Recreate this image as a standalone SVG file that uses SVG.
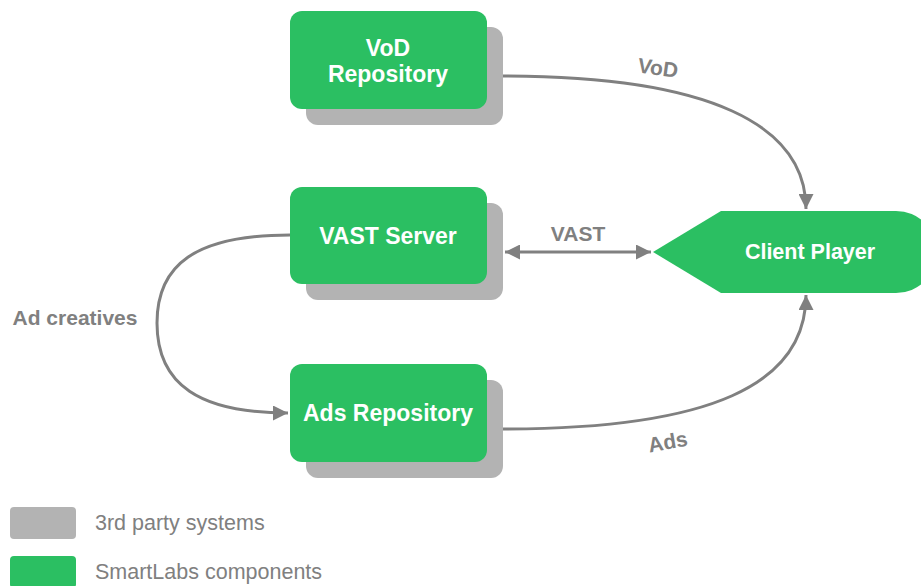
<svg xmlns="http://www.w3.org/2000/svg" width="921" height="586" viewBox="0 0 921 586">
<defs>
<style>
.shadow{fill:#b3b3b3}
.box{fill:#2bbf62}
.nt{font-family:"Liberation Sans",Arial,sans-serif;font-weight:bold;font-size:23px;fill:#fff;text-anchor:middle}
.lbl{font-family:"Liberation Sans",Arial,sans-serif;font-weight:bold;font-size:21px;fill:#808080;text-anchor:middle}
.leg{font-family:"Liberation Sans",Arial,sans-serif;font-size:21.5px;fill:#808080}
.conn{fill:none;stroke:#808080;stroke-width:3}
</style>
<marker id="ah" viewBox="0 0 10 10" refX="10" refY="5" markerWidth="5.5" markerHeight="5" markerUnits="strokeWidth" orient="auto-start-reverse">
<path d="M0,0 L10,5 L0,10 Z" fill="#808080"/>
</marker>
</defs>
<rect width="921" height="586" fill="#fff"/>
<g id="vod-repository">
<rect class="shadow" x="306" y="27" width="197" height="98" rx="12"/>
<rect class="box" x="290" y="11" width="197" height="98" rx="12"/>
<text class="nt" x="388" y="56">VoD</text>
<text class="nt" x="388" y="82">Repository</text>
</g>
<g id="vast-server">
<rect class="shadow" x="306" y="203" width="197" height="97" rx="12"/>
<rect class="box" x="290" y="187" width="197" height="97" rx="12"/>
<text class="nt" x="388" y="244">VAST Server</text>
</g>
<g id="ads-repository">
<rect class="shadow" x="306" y="380" width="197" height="98" rx="12"/>
<rect class="box" x="290" y="364" width="197" height="98" rx="12"/>
<text class="nt" x="388" y="421">Ads Repository</text>
</g>
<g id="client-player">
<path class="box" d="M653,252 L721,211 H896 A41,41 0 0 1 896,293 H721 Z"/>
<text class="nt" x="810" y="259" style="font-size:21.5px">Client Player</text>
</g>
<g id="connectors">
<path class="conn" d="M503,76 C710,76 806,125 806,209" marker-end="url(#ah)"/>
<path class="conn" d="M505,252 H651" marker-start="url(#ah)" marker-end="url(#ah)"/>
<path class="conn" d="M290,235 C195,235 157,265 157,323 C157,385 200,413 288,413" marker-end="url(#ah)"/>
<path class="conn" d="M503,429 C710,429 806,385 806,295" marker-end="url(#ah)"/>
<text class="lbl" transform="translate(657,75) rotate(8)">VoD</text>
<text class="lbl" x="578" y="241">VAST</text>
<text class="lbl" x="75" y="325">Ad creatives</text>
<text class="lbl" transform="translate(669,449) rotate(-10)">Ads</text>
</g>
<g id="legend">
<rect class="shadow" x="10" y="507" width="66" height="32" rx="4"/>
<rect class="box" x="10" y="556" width="66" height="32" rx="4"/>
<text class="leg" x="95" y="530">3rd party systems</text>
<text class="leg" x="95" y="579">SmartLabs components</text>
</g>
</svg>
